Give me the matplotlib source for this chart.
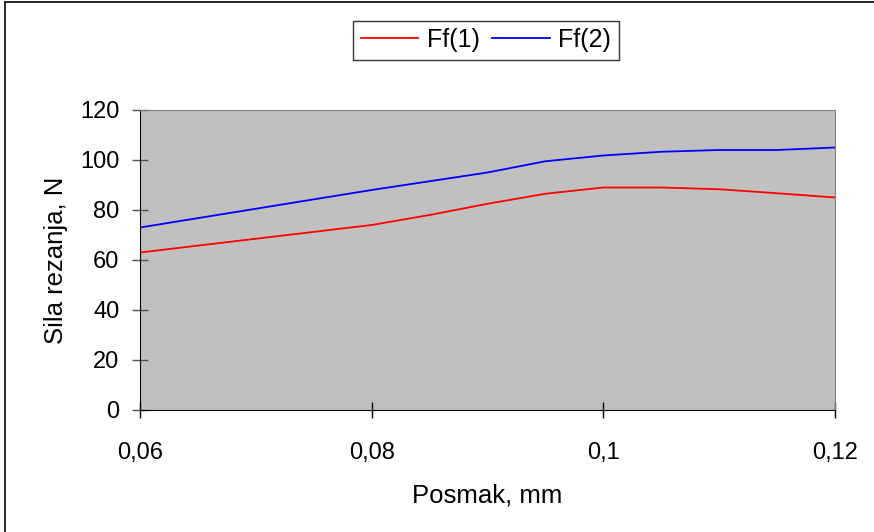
import matplotlib
matplotlib.use("Agg")
import matplotlib.pyplot as plt
from matplotlib.patches import Rectangle

# feed (mm) and cutting force (N)
posmak = [0.06, 0.07, 0.08, 0.085, 0.09, 0.095, 0.1, 0.105, 0.11, 0.115, 0.12]
ff1 = [63, 68.5, 74, 78, 82.5, 86.5, 89, 89, 88.3, 86.7, 85]
ff2 = [73, 80.5, 88, 91.5, 95, 99.5, 101.8, 103.3, 104, 104, 105]

x_ticks = [0.06, 0.08, 0.1, 0.12]
x_labels = ["0,06", "0,08", "0,1", "0,12"]
y_ticks = [0, 20, 40, 60, 80, 100, 120]

plt.rcParams['font.family'] = ['Liberation Sans', 'DejaVu Sans']

fig = plt.figure(figsize=(8.74, 5.32), dpi=100)
ax = fig.add_axes([140 / 874, 122 / 532, 695 / 874, 300 / 532])
ax.set_facecolor('#c0c0c0')

ax.plot(posmak, ff1, color='red', lw=1.3, label='Ff(1)')
ax.plot(posmak, ff2, color='blue', lw=1.3, label='Ff(2)')

ax.set_xlim(0.06, 0.12)
ax.set_ylim(0, 120)
ax.set_xticks(x_ticks)
ax.set_xticklabels(x_labels)
ax.set_yticks(y_ticks)
ax.tick_params(direction='inout', width=1, labelsize=17)
ax.tick_params(axis='y', length=11.5, pad=9, color='#505050')
ax.tick_params(axis='x', length=12, pad=17)

for side in ['left', 'bottom']:
    ax.spines[side].set_color('black')
for side in ['top', 'right']:
    ax.spines[side].set_color('#808080')

ax.set_xlabel('Posmak, mm', fontsize=18.5, labelpad=14)
ax.set_ylabel('Sila rezanja, N', fontsize=18.5, labelpad=9)

leg = ax.legend(loc='center', bbox_to_anchor=(486 / 874, 1 - 40 / 532),
                bbox_transform=fig.transFigure, ncol=2, fontsize=18,
                frameon=True, fancybox=False, handlelength=2.3,
                columnspacing=0.5, handletextpad=0.35, borderpad=0.3)
leg.get_frame().set_edgecolor('black')
leg.get_frame().set_linewidth(1)

# outer chart border
fig.patches.append(Rectangle((5 / 874, -0.1), 1.2, 1.1 - 2 / 532, transform=fig.transFigure,
                             fill=False, edgecolor='black', lw=1.2))

fig.savefig('out.png', dpi=100)
